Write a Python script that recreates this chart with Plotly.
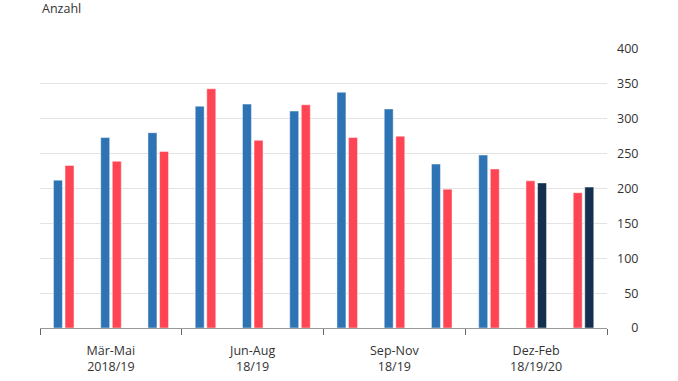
import plotly.graph_objects as go

months = ["Mär", "Apr", "Mai", "Jun", "Jul", "Aug", "Sep", "Okt", "Nov", "Dez", "Jan", "Feb"]
values_2018 = [212, 273, 280, 318, 321, 311, 338, 314, 235, 248, None, None]
values_2019 = [233, 239, 253, 343, 269, 320, 273, 275, 199, 228, 211, 194]
values_2020 = [None, None, None, None, None, None, None, None, None, None, 208, 202]
quarter_labels = ["Mär-Mai<br>2018/19", "Jun-Aug<br>18/19", "Sep-Nov<br>18/19", "Dez-Feb<br>18/19/20"]
y_ticks = [0, 50, 100, 150, 200, 250, 300, 350, 400]

x = list(range(len(months)))
W = 0.19
LEFT = -0.215
RIGHT = 0.03

FONT = "Open Sans, Lato, sans-serif"
line = dict(width=1, color="rgba(255,255,255,0.45)")

fig = go.Figure()
fig.add_bar(x=x, y=values_2018, name="2018", width=W, offset=LEFT,
            marker=dict(color="#2e74b5", line=line))
fig.add_bar(x=x, y=values_2019, name="2019", width=W,
            offset=[RIGHT if v is not None else LEFT for v in values_2018],
            marker=dict(color="#ff4553", line=line))
fig.add_bar(x=x, y=values_2020, name="2020", width=W, offset=RIGHT,
            marker=dict(color="#15304f", line=line))

n = len(months)
fig.update_layout(
    width=678, height=381,
    margin=dict(l=40, r=71, t=49, b=53, autoexpand=False),
    barmode="overlay",
    showlegend=False,
    plot_bgcolor="white", paper_bgcolor="white",
    font=dict(family=FONT, size=12.5, color="#333333"),
    xaxis=dict(
        automargin=False,
        range=[-0.5, n - 0.5],
        tickmode="array",
        tickvals=[1, 4, 7, 10],
        ticktext=quarter_labels,
        ticks="",
        showgrid=False,
        showline=True, linecolor="#999999", linewidth=1,
        zeroline=False,
        ticklabelstandoff=11,
        minor=dict(tickmode="array", tickvals=[-0.5, 2.5, 5.5, 8.5, 11.5],
                   ticks="outside", ticklen=6, tickcolor="#666666", tickwidth=1,
                   showgrid=False),
        tickfont=dict(size=12.5, color="#333333"),
        fixedrange=True,
    ),
    yaxis=dict(
        automargin=False,
        side="right",
        range=[0, 400],
        tickmode="array",
        tickvals=y_ticks,
        ticktext=[("\u2007" * (3 - len(str(v)))) + str(v) for v in y_ticks],
        showgrid=True, gridcolor="#e3e3e3", gridwidth=1,
        zeroline=False, showline=False, ticks="",
        ticklabelstandoff=9,
        tickfont=dict(size=12.5, color="#333333"),
        fixedrange=True,
    ),
    annotations=[dict(text="Anzahl", xref="paper", yref="paper", x=0, y=1,
                      xanchor="left", yanchor="top", yshift=51, showarrow=False,
                      font=dict(size=12.5, color="#333333"))],
)

fig.write_html("out.html", config={"displayModeBar": False},
               post_script="document.body.style.margin='0';document.body.style.padding='0';")
